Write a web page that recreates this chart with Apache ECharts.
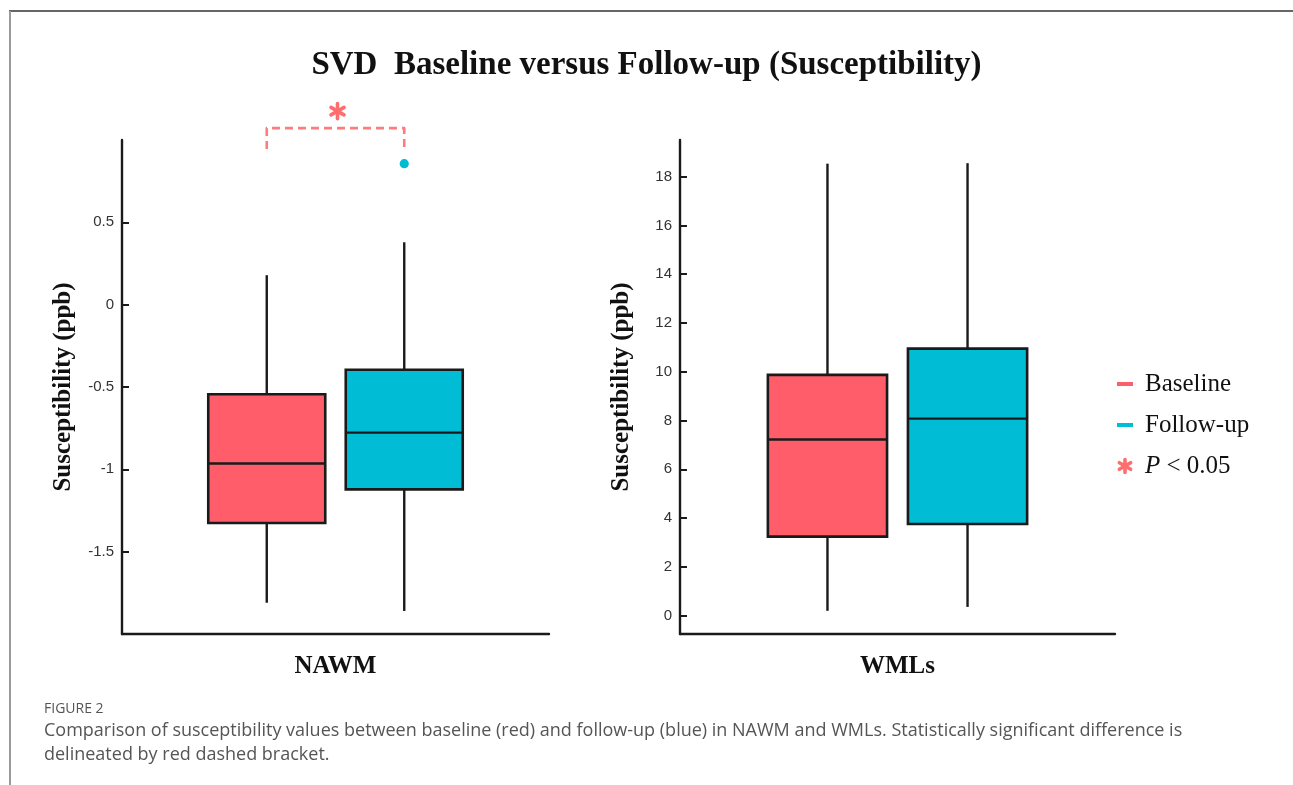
<!DOCTYPE html>
<html>
<head>
<meta charset="utf-8">
<title>SVD Baseline versus Follow-up (Susceptibility)</title>
<script src="https://cdn.jsdelivr.net/npm/echarts@6/dist/echarts.min.js"></script>
<style>
  html, body { margin: 0; padding: 0; background: #fff; }
  #chart { width: 1293px; height: 785px; }
</style>
</head>
<body>
<div id="chart"></div>
<script>
// 数据：[min, Q1, median, Q3, max]
const nawmCategories = ['NAWM'];
const wmlCategories = ['WMLs'];
const nawmBaseline = [-1.81, -1.326, -0.965, -0.544, 0.179];
const nawmFollowup = [-1.86, -1.122, -0.777, -0.395, 0.379];
const nawmFollowupOutliers = [0.856];
const wmlBaseline = [0.2, 3.24, 7.22, 9.87, 18.53];
const wmlFollowup = [0.36, 3.76, 8.08, 10.95, 18.55];
// 显著性括号 [两端高度, 顶部高度]
const nawmBracket = [0.946, 1.072];

const nawmTicks = [-1.5, -1, -0.5, 0, 0.5];
const wmlTicks = [0, 2, 4, 6, 8, 10, 12, 14, 16, 18];

const RED = '#FF5D69';
const CYAN = '#00BCD4';
const STAR = '#FF6E6E';
const INK = '#1a1a1a';
const BOX_OFFSET = 0.161; // 箱体中心相对类目中心的偏移（占带宽比例）
const BOX_WIDTH = 0.274;

const chart = echarts.init(document.getElementById('chart'));

function boxRender(side, color) {
  return function (params, api) {
    const band = api.size([1, 0])[0];
    const cat = api.value(0);
    const pMin = api.coord([cat, api.value(1)]);
    const pQ1 = api.coord([cat, api.value(2)]);
    const pMed = api.coord([cat, api.value(3)]);
    const pQ3 = api.coord([cat, api.value(4)]);
    const pMax = api.coord([cat, api.value(5)]);
    const x = pMin[0] + side * band * BOX_OFFSET;
    const half = band * BOX_WIDTH / 2;
    const line = {stroke: INK, lineWidth: 2.4};
    return {
      type: 'group',
      children: [
        {type: 'line', shape: {x1: x, y1: pMax[1], x2: x, y2: pQ3[1]}, style: line},
        {type: 'line', shape: {x1: x, y1: pQ1[1], x2: x, y2: pMin[1]}, style: line},
        {
          type: 'rect',
          shape: {x: x - half, y: pQ3[1], width: half * 2, height: pQ1[1] - pQ3[1]},
          style: {fill: color, stroke: INK, lineWidth: 2.6}
        },
        {type: 'line', shape: {x1: x - half, y1: pMed[1], x2: x + half, y2: pMed[1]}, style: line}
      ]
    };
  };
}

function outlierRender(side, color) {
  return function (params, api) {
    const band = api.size([1, 0])[0];
    const p = api.coord([api.value(0), api.value(1)]);
    return {
      type: 'circle',
      shape: {cx: p[0] + side * band * BOX_OFFSET, cy: p[1], r: 4.6},
      style: {fill: color}
    };
  };
}

function asterisk(cx, cy, r, color) {
  const arms = [90, 30, 150].map(deg => {
    const a = deg * Math.PI / 180;
    return {
      type: 'line',
      shape: {x1: cx - r * Math.cos(a), y1: cy - r * Math.sin(a), x2: cx + r * Math.cos(a), y2: cy + r * Math.sin(a)},
      style: {stroke: color, lineWidth: 3.6, lineCap: 'round'}
    };
  });
  return {type: 'group', children: arms};
}

function bracketRender(params, api) {
  const band = api.size([1, 0])[0];
  const cat = api.value(0);
  const pLeg = api.coord([cat, api.value(1)]);
  const pTop = api.coord([cat, api.value(2)]);
  const xL = pLeg[0] - band * BOX_OFFSET;
  const xR = pLeg[0] + band * BOX_OFFSET;
  return {
    type: 'group',
    children: [
      {
        type: 'polyline',
        shape: {points: [[xL, pLeg[1]], [xL, pTop[1]], [xR, pTop[1]], [xR, pLeg[1]]]},
        style: {stroke: '#FF7C7C', lineWidth: 2.6, lineDash: [8, 5], lineJoin: 'round', fill: null}
      },
      asterisk(pLeg[0] + 2, pTop[1] - 17, 7.5, STAR)
    ]
  };
}

function valueAxis(gridIndex, min, max, ticks) {
  return {
    gridIndex: gridIndex,
    type: 'value',
    min: min,
    max: max,
    name: 'Susceptibility (ppb)',
    nameLocation: 'middle',
    nameGap: 46,
    nameTextStyle: {fontFamily: 'Liberation Serif', fontWeight: 'bold', fontSize: 25, color: '#111'},
    axisLine: {show: true, onZero: false, lineStyle: {color: INK, width: 2.4}},
    axisTick: {show: true, inside: true, length: 7, customValues: ticks, lineStyle: {color: INK, width: 2}},
    axisLabel: {customValues: ticks, color: '#333', fontSize: 15, fontFamily: 'Liberation Sans', margin: 8},
    splitLine: {show: false}
  };
}

function categoryAxis(gridIndex, data) {
  return {
    gridIndex: gridIndex,
    type: 'category',
    data: data,
    axisLine: {onZero: false, lineStyle: {color: INK, width: 2.4}},
    axisTick: {inside: true, alignWithLabel: true, length: 8, lineStyle: {color: INK, width: 2}},
    axisLabel: {fontFamily: 'Liberation Serif', fontWeight: 'bold', fontSize: 25, color: '#111', margin: 20}
  };
}

const legendText = {fontFamily: 'Liberation Serif', fontSize: 25, fill: '#111', verticalAlign: 'middle'};

const option = {
  backgroundColor: '#fff',
  animation: false,
  title: {
    text: 'SVD  Baseline versus Follow-up (Susceptibility)',
    left: 'center',
    top: 44,
    textStyle: {fontFamily: 'Liberation Serif', fontWeight: 'bold', fontSize: 33, color: '#111'}
  },
  grid: [
    {left: 122, right: 744, top: 140, bottom: 151},
    {left: 680, right: 178, top: 140, bottom: 151}
  ],
  xAxis: [categoryAxis(0, nawmCategories), categoryAxis(1, wmlCategories)],
  yAxis: [valueAxis(0, -2, 1, nawmTicks), valueAxis(1, -0.75, 19.5, wmlTicks)],
  series: [
    {
      name: 'Baseline', type: 'custom', xAxisIndex: 0, yAxisIndex: 0,
      renderItem: boxRender(-1, RED), encode: {x: 0, y: [1, 2, 3, 4, 5]},
      data: [[0].concat(nawmBaseline)]
    },
    {
      name: 'Follow-up', type: 'custom', xAxisIndex: 0, yAxisIndex: 0,
      renderItem: boxRender(1, CYAN), encode: {x: 0, y: [1, 2, 3, 4, 5]},
      data: [[0].concat(nawmFollowup)]
    },
    {
      name: 'Follow-up outliers', type: 'custom', xAxisIndex: 0, yAxisIndex: 0,
      renderItem: outlierRender(1, CYAN), encode: {x: 0, y: 1},
      data: nawmFollowupOutliers.map(v => [0, v])
    },
    {
      name: 'P < 0.05', type: 'custom', xAxisIndex: 0, yAxisIndex: 0, clip: false,
      renderItem: bracketRender, encode: {x: 0, y: [1, 2]},
      data: [[0].concat(nawmBracket)]
    },
    {
      name: 'Baseline', type: 'custom', xAxisIndex: 1, yAxisIndex: 1,
      renderItem: boxRender(-1, RED), encode: {x: 0, y: [1, 2, 3, 4, 5]},
      data: [[0].concat(wmlBaseline)]
    },
    {
      name: 'Follow-up', type: 'custom', xAxisIndex: 1, yAxisIndex: 1,
      renderItem: boxRender(1, CYAN), encode: {x: 0, y: [1, 2, 3, 4, 5]},
      data: [[0].concat(wmlFollowup)]
    }
  ],
  graphic: [
    // 外框线
    {type: 'line', shape: {x1: 9, y1: 11, x2: 1293, y2: 11}, style: {stroke: '#333', lineWidth: 1.5}},
    {type: 'line', shape: {x1: 10, y1: 11, x2: 10, y2: 785}, style: {stroke: '#9a9a9a', lineWidth: 2}},
    // 图例
    {type: 'rect', shape: {x: 1117, y: 382, width: 16, height: 4}, style: {fill: RED}},
    {type: 'text', x: 1145, y: 384, style: Object.assign({text: 'Baseline'}, legendText)},
    {type: 'rect', shape: {x: 1117, y: 423, width: 16, height: 4}, style: {fill: CYAN}},
    {type: 'text', x: 1145, y: 425, style: Object.assign({text: 'Follow-up'}, legendText)},
    asterisk(1125, 466, 6.5, STAR),
    {
      type: 'text', x: 1145, y: 466,
      style: Object.assign({
        text: '{i|P} < 0.05',
        rich: {i: {fontFamily: 'Liberation Serif', fontStyle: 'italic', fontSize: 25, fill: '#111'}}
      }, legendText)
    },
    // 图注
    {
      type: 'text', x: 44, y: 709,
      style: {text: 'FIGURE 2', fontFamily: 'Open Sans', fontSize: 14, fill: '#555', verticalAlign: 'middle'}
    },
    {
      type: 'text', x: 44, y: 731,
      style: {
        text: 'Comparison of susceptibility values between baseline (red) and follow-up (blue) in NAWM and WMLs. Statistically significant difference is',
        fontFamily: 'Open Sans', fontSize: 18, fill: '#555', verticalAlign: 'middle'
      }
    },
    {
      type: 'text', x: 44, y: 755,
      style: {
        text: 'delineated by red dashed bracket.',
        fontFamily: 'Open Sans', fontSize: 18, fill: '#555', verticalAlign: 'middle'
      }
    }
  ]
};

chart.setOption(option);
</script>
</body>
</html>
